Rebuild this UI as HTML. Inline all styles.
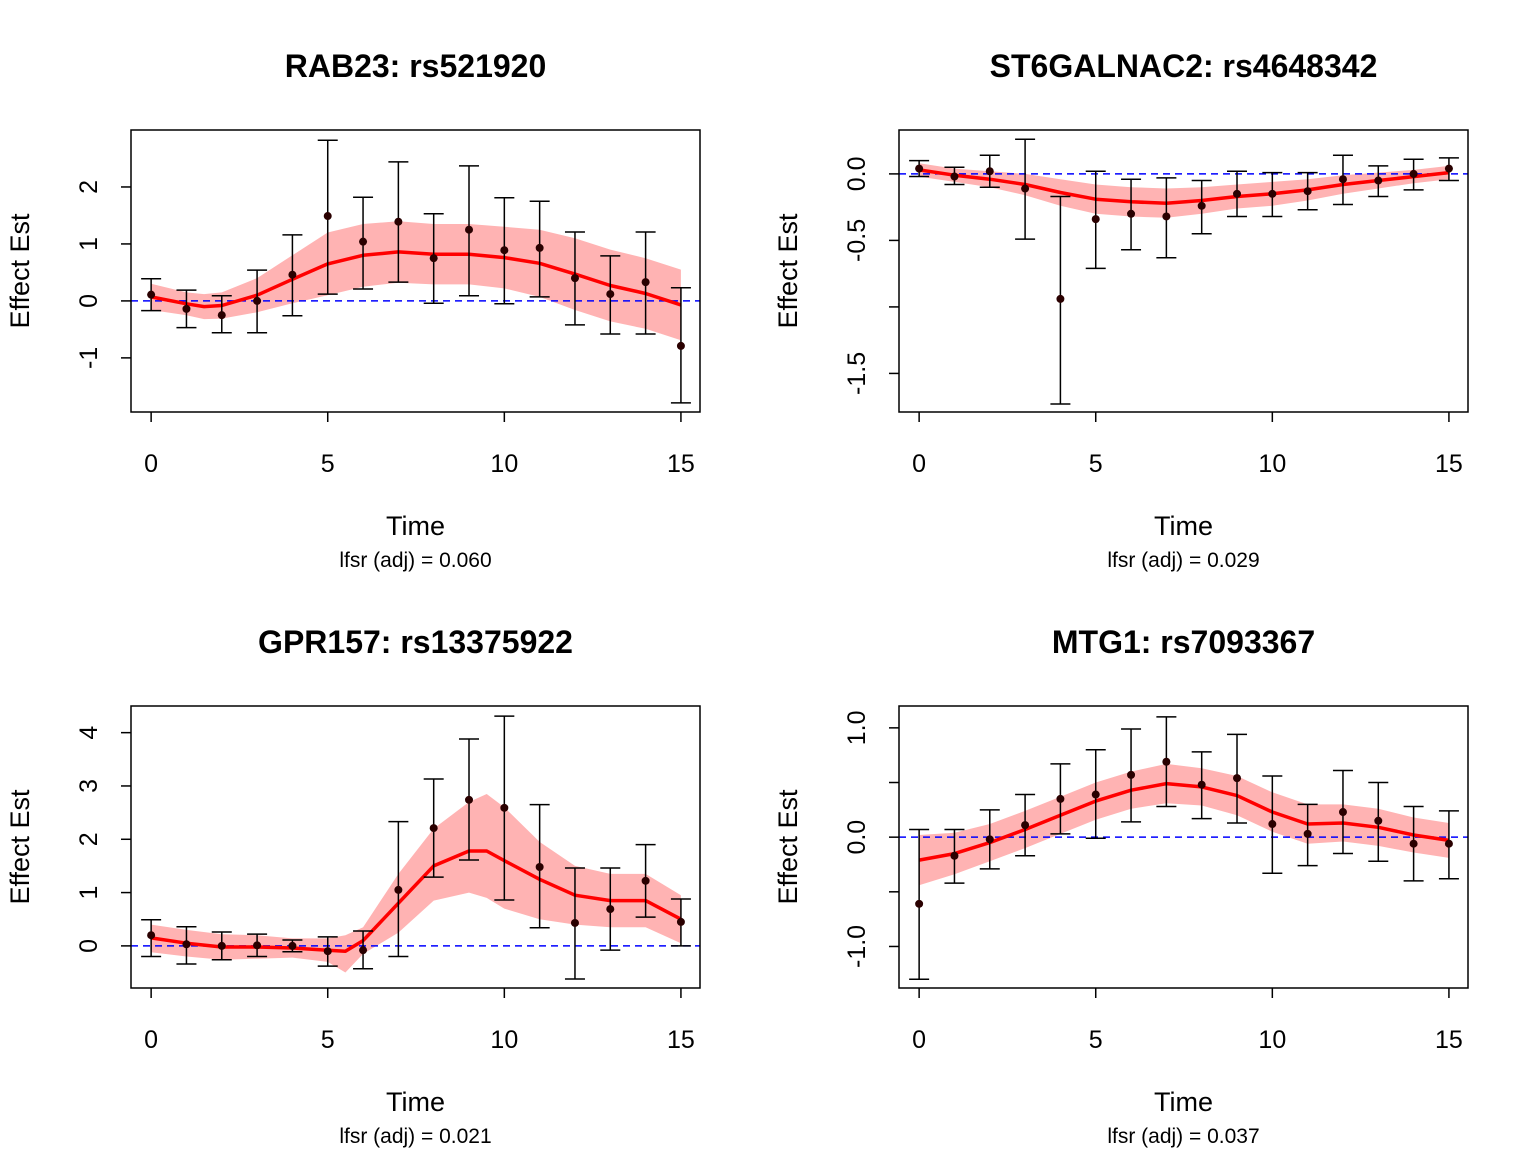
<!DOCTYPE html>
<html><head><meta charset="utf-8"><style>
html,body{margin:0;padding:0;background:#fff;}
svg{display:block;font-family:"Liberation Sans",Arial,sans-serif;}
</style></head><body>
<svg id="c" width="1536" height="1152" viewBox="0 0 1536 1152"></svg>
<script>
// ---- data ----
const times = [0,1,2,3,4,5,6,7,8,9,10,11,12,13,14,15];
const xTicks = [0,5,10,15];

const p1Title = "RAB23: rs521920";
const p1Lfsr = "lfsr (adj) = 0.060";
const p1Est = [0.11,-0.14,-0.25,0,0.46,1.49,1.04,1.39,0.75,1.25,0.89,0.93,0.4,0.12,0.33,-0.79];
const p1Hi = [0.39,0.19,0.09,0.54,1.16,2.82,1.82,2.44,1.53,2.37,1.81,1.75,1.21,0.79,1.21,0.23];
const p1Lo = [-0.17,-0.47,-0.56,-0.56,-0.26,0.12,0.21,0.33,-0.04,0.09,-0.05,0.07,-0.42,-0.58,-0.58,-1.79];
const p1SmoothT = [0,1,1.5,2,3,4,5,6,7,8,9,10,11,12,13,14,15];
const p1Smooth = [0.07,-0.05,-0.1,-0.08,0.1,0.38,0.65,0.8,0.86,0.82,0.82,0.76,0.66,0.47,0.27,0.13,-0.07];
const p1BandUp = [0.3,0.15,0.12,0.15,0.4,0.8,1.2,1.35,1.4,1.35,1.35,1.3,1.25,1.1,0.9,0.75,0.55];
const p1BandLo = [-0.16,-0.25,-0.32,-0.31,-0.2,-0.04,0.1,0.25,0.32,0.29,0.29,0.22,0.07,-0.16,-0.36,-0.49,-0.69];
const p1YTicks = [-1,0,1,2];
const p1YLabels = ["-1","0","1","2"];

const p2Title = "ST6GALNAC2: rs4648342";
const p2Lfsr = "lfsr (adj) = 0.029";
const p2Est = [0.04,-0.02,0.02,-0.11,-0.94,-0.34,-0.3,-0.32,-0.24,-0.15,-0.15,-0.13,-0.04,-0.05,0,0.04];
const p2Hi = [0.1,0.05,0.14,0.26,-0.17,0.02,-0.04,-0.03,-0.05,0.02,0.01,0.01,0.14,0.06,0.11,0.12];
const p2Lo = [-0.02,-0.08,-0.1,-0.49,-1.73,-0.71,-0.57,-0.63,-0.45,-0.32,-0.32,-0.27,-0.23,-0.17,-0.12,-0.05];
const p2SmoothT = [0,1,2,3,4,5,6,7,8,9,10,11,12,13,14,15];
const p2Smooth = [0.03,-0.01,-0.04,-0.08,-0.14,-0.19,-0.21,-0.22,-0.2,-0.17,-0.15,-0.12,-0.08,-0.05,-0.02,0.01];
const p2BandUp = [0.08,0.04,0.02,0.0,-0.04,-0.08,-0.1,-0.11,-0.1,-0.08,-0.06,-0.04,-0.01,0.01,0.03,0.06];
const p2BandLo = [-0.02,-0.06,-0.1,-0.16,-0.24,-0.3,-0.32,-0.33,-0.3,-0.26,-0.24,-0.2,-0.15,-0.11,-0.07,-0.04];
const p2YTicks = [-1.5,-1.0,-0.5,0.0];
const p2YLabels = ["-1.5","","-0.5","0.0"];

const p3Title = "GPR157: rs13375922";
const p3Lfsr = "lfsr (adj) = 0.021";
const p3Est = [0.2,0.03,0,0.01,0,-0.1,-0.08,1.05,2.21,2.74,2.59,1.48,0.43,0.69,1.22,0.45];
const p3Hi = [0.49,0.36,0.26,0.22,0.11,0.17,0.28,2.33,3.13,3.88,4.31,2.65,1.46,1.46,1.9,0.88];
const p3Lo = [-0.2,-0.34,-0.26,-0.2,-0.11,-0.38,-0.43,-0.2,1.29,1.61,0.86,0.34,-0.62,-0.08,0.54,0.0];
const p3SmoothT = [0,1,2,3,4,5,5.5,6,7,8,9,9.5,10,11,12,13,14,15];
const p3Smooth = [0.15,0.05,-0.02,-0.02,-0.04,-0.08,-0.1,0.1,0.8,1.5,1.78,1.78,1.6,1.25,0.95,0.85,0.85,0.5];
const p3BandUp = [0.4,0.3,0.22,0.2,0.14,0.14,0.2,0.35,1.35,2.2,2.7,2.85,2.6,1.95,1.5,1.35,1.35,0.95];
const p3BandLo = [-0.12,-0.2,-0.26,-0.24,-0.22,-0.3,-0.5,-0.15,0.25,0.85,1.0,0.9,0.7,0.5,0.4,0.35,0.35,0.05];
const p3YTicks = [0,1,2,3,4];
const p3YLabels = ["0","1","2","3","4"];

const p4Title = "MTG1: rs7093367";
const p4Lfsr = "lfsr (adj) = 0.037";
const p4Est = [-0.61,-0.17,-0.02,0.11,0.35,0.39,0.57,0.69,0.48,0.54,0.12,0.03,0.23,0.15,-0.06,-0.06];
const p4Hi = [0.07,0.07,0.25,0.39,0.67,0.8,0.99,1.1,0.78,0.94,0.56,0.3,0.61,0.5,0.28,0.24];
const p4Lo = [-1.3,-0.42,-0.29,-0.17,0.03,-0.01,0.14,0.28,0.17,0.13,-0.33,-0.26,-0.15,-0.22,-0.4,-0.38];
const p4SmoothT = [0,1,2,3,4,5,6,7,8,9,10,11,12,13,14,15];
const p4Smooth = [-0.21,-0.15,-0.05,0.07,0.2,0.33,0.43,0.49,0.46,0.38,0.23,0.12,0.13,0.09,0.02,-0.03];
const p4BandUp = [0.02,0.04,0.12,0.24,0.37,0.5,0.6,0.67,0.63,0.56,0.41,0.3,0.3,0.26,0.18,0.13];
const p4BandLo = [-0.44,-0.34,-0.22,-0.1,0.03,0.16,0.26,0.31,0.29,0.2,0.05,-0.06,-0.04,-0.08,-0.14,-0.19];
const p4YTicks = [-1.0,-0.5,0.0,0.5,1.0];
const p4YLabels = ["-1.0","","0.0","","1.0"];

const NS = "http://www.w3.org/2000/svg";
const svg = document.getElementById('c');
function mk(tag, attrs, parent){
  const e = document.createElementNS(NS, tag);
  for (const k in attrs) e.setAttribute(k, attrs[k]);
  (parent||svg).appendChild(e);
  return e;
}

function panel(cfg){
  const {ox, oy, yMin, yMax, key} = cfg;
  const L = ox+131, R = ox+700, T = oy+130, B = oy+412;
  const xMin = -0.57, xMax = 15.54;
  const X = v => L + (v - xMin) / (xMax - xMin) * (R - L);
  const Y = v => B - (v - yMin) / (yMax - yMin) * (B - T);
  const g = mk('g', {});
  
  

  let d = '';
  cfg.st.forEach((t,i)=>{ d += (i?'L':'M') + X(t).toFixed(1) + ',' + Y(cfg.bu[i]).toFixed(1); });
  for (let i = cfg.st.length-1; i>=0; i--) d += 'L' + X(cfg.st[i]).toFixed(1) + ',' + Y(cfg.bl[i]).toFixed(1);
  const band = mk('path', {d: d+'Z', fill:'#ffb3b3', stroke:'none'}, g);
  
  

  const zl = mk('line', {x1:L, x2:R, y1:Y(0), y2:Y(0), stroke:'#0000ff', 'stroke-width':1.5, 'stroke-dasharray':'7,5'}, g);
  
  

  let ld = '';
  cfg.st.forEach((t,i)=>{ ld += (i?'L':'M') + X(t).toFixed(1) + ',' + Y(cfg.sm[i]).toFixed(1); });
  const sl = mk('path', {d: ld, fill:'none', stroke:'#ff0000', 'stroke-width':3.5, 'stroke-linejoin':'round'}, g);
  
  

  times.forEach((t,i)=>{
    const x = X(t);
    const eb = mk('path', {d:`M${x},${Y(cfg.lo[i])}V${Y(cfg.hi[i])}M${x-10},${Y(cfg.lo[i])}H${x+10}M${x-10},${Y(cfg.hi[i])}H${x+10}`, stroke:'#000', 'stroke-width':1.5, fill:'none'}, g);
    
    
    const pt = mk('circle', {cx:x, cy:Y(cfg.est[i]), r:4, fill:'#2a0000'}, g);
    
    
  });

  const box = mk('rect', {x:L, y:T, width:R-L, height:B-T, fill:'none', stroke:'#000', 'stroke-width':1.5}, g);
  
  

  xTicks.forEach(v=>{
    mk('line', {x1:X(v), x2:X(v), y1:B, y2:B+10, stroke:'#000', 'stroke-width':1.5}, g);
    const tl = mk('text', {x:X(v), y:B+60, 'text-anchor':'middle', 'font-size':25}, g);
    tl.textContent = v;
    
    
  });
  cfg.yt.forEach((v,i)=>{
    mk('line', {x1:L-10, x2:L, y1:Y(v), y2:Y(v), stroke:'#000', 'stroke-width':1.5}, g);
    if (cfg.yl[i]) {
      const tl = mk('text', {x:0, y:0, 'text-anchor':'middle', 'font-size':25, transform:`translate(${L-34},${Y(v)}) rotate(-90)`}, g);
      tl.textContent = cfg.yl[i];
      
      
    }
  });
  const yt = mk('text', {x:0, y:0, 'text-anchor':'middle', 'font-size':27, transform:`translate(${ox+29},${(T+B)/2}) rotate(-90)`}, g);
  yt.textContent = 'Effect Est';
  
  
  const xt = mk('text', {x:(L+R)/2, y:oy+535, 'text-anchor':'middle', 'font-size':27}, g);
  xt.textContent = 'Time';
  
  
  const lf = mk('text', {x:(L+R)/2, y:oy+567, 'text-anchor':'middle', 'font-size':21}, g);
  lf.textContent = cfg.lfsr;
  
  
  const ti = mk('text', {x:(L+R)/2, y:oy+77, 'text-anchor':'middle', 'font-size':32, 'font-weight':'bold'}, g);
  ti.textContent = cfg.title;
  
  
}

panel({key:'rab23', ox:0, oy:0, yMin:-1.95, yMax:3.0, title:p1Title, lfsr:p1Lfsr, est:p1Est, hi:p1Hi, lo:p1Lo, st:p1SmoothT, sm:p1Smooth, bu:p1BandUp, bl:p1BandLo, yt:p1YTicks, yl:p1YLabels});
panel({key:'st6galnac2', ox:768, oy:0, yMin:-1.79, yMax:0.33, title:p2Title, lfsr:p2Lfsr, est:p2Est, hi:p2Hi, lo:p2Lo, st:p2SmoothT, sm:p2Smooth, bu:p2BandUp, bl:p2BandLo, yt:p2YTicks, yl:p2YLabels});
panel({key:'gpr157', ox:0, oy:576, yMin:-0.79, yMax:4.5, title:p3Title, lfsr:p3Lfsr, est:p3Est, hi:p3Hi, lo:p3Lo, st:p3SmoothT, sm:p3Smooth, bu:p3BandUp, bl:p3BandLo, yt:p3YTicks, yl:p3YLabels});
panel({key:'mtg1', ox:768, oy:576, yMin:-1.38, yMax:1.2, title:p4Title, lfsr:p4Lfsr, est:p4Est, hi:p4Hi, lo:p4Lo, st:p4SmoothT, sm:p4Smooth, bu:p4BandUp, bl:p4BandLo, yt:p4YTicks, yl:p4YLabels});
</script>
</body></html>
